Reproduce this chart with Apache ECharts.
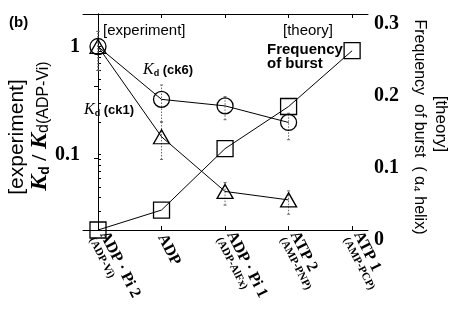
<!DOCTYPE html>
<html><head><meta charset="utf-8">
<script src="https://cdn.jsdelivr.net/npm/echarts@6/dist/echarts.min.js"></script>
<style>html,body{margin:0;padding:0;background:#fff}#c{width:463px;height:318px}</style>
</head><body><div id="c"></div>
<script>
const categories = ['ADP · Pi 2', 'ADP', 'ADP · Pi 1', 'ATP 2', 'ATP 1'];
const subLabels = ['(ADP-Vi)', '', '(ADP-AlFx)', '(AMP-PNP)', '(AMP-PCP)'];
const kdCk6 = [1.0, 0.324, 0.282, 0.198];
const kdCk1 = [1.0, 0.146, 0.0455, 0.038];
const burst = [0, 0.0277, 0.113, 0.1715, 0.249];
const ck6Low = [0.60, 0.20, 0.21, 0.137];
const ck6High = [1.38, 0.44, 0.343, 0.241];
const ck1Low = [0.60, 0.09, 0.034, 0.028];
const ck1High = [1.38, 0.20, 0.055, 0.046];
const leftLabels = [0.1, 1];
const leftTicks = [0.02,0.03,0.04,0.05,0.06,0.07,0.08,0.09,0.1,0.2,0.3,0.4,0.5,0.6,0.7,0.8,0.9,1,2];
const rightTicks = [0, 0.1, 0.2, 0.3];

const catIdx = categories.map((_, i) => i);
const serif = '"Liberation Serif", "DejaVu Serif", serif';
const sans = '"Liberation Sans", Arial, sans-serif';

function pts(arr){ return arr.map((v,i)=>[i,v]); }
function errs(lo,hi){ return lo.map((v,i)=>[i,v,hi[i]]); }

const errRender = function(params, api){
  const x = api.value(0);
  const p1 = api.coord([x, api.value(1)]);
  const p2 = api.coord([x, api.value(2)]);
  const st = {stroke:'#666', lineWidth:1, lineDash:[1.5,1.5]};
  return {type:'group', children:[
    {type:'line', shape:{x1:p1[0],y1:p1[1],x2:p2[0],y2:p2[1]}, style:st},
    {type:'line', shape:{x1:p1[0]-1.5,y1:p1[1],x2:p1[0]+1.5,y2:p1[1]}, style:{stroke:'#666',lineWidth:1}},
    {type:'line', shape:{x1:p2[0]-1.5,y1:p2[1],x2:p2[0]+1.5,y2:p2[1]}, style:{stroke:'#666',lineWidth:1}}
  ]};
};

const chart = echarts.init(document.getElementById('c'), null, {renderer:'canvas'});
const axLine = {show:true, lineStyle:{color:'#000', width:1}};
const markerStyle = {color:'rgba(0,0,0,0)', borderColor:'#000', borderWidth:1.3};
const kdRich = {k:{fontFamily:serif, fontStyle:'italic', fontSize:16, fill:'#000', color:'#000'},
                d:{fontFamily:sans, fontWeight:'bold', fontSize:9, verticalAlign:'bottom', fill:'#000', color:'#000', padding:[6,0,0,0]},
                c:{fontFamily:sans, fontWeight:'bold', fontSize:13, fill:'#000', color:'#000'}};

chart.setOption({
  animation:false,
  backgroundColor:'#fff',
  grid:{left:83, right:95, top:14, bottom:88, containLabel:false},
  xAxis:[
    {type:'value', min:-0.236, max:4.25, position:'bottom', axisLine:axLine,
     splitLine:{show:false},
     axisTick:{show:true, inside:true, length:4, customValues:catIdx, lineStyle:{color:'#000'}},
     axisLabel:{show:true, customValues:catIdx, rotate:-63, margin:5,
       formatter:function(v){ const i=Math.round(v); return subLabels[i] ? '{a|'+categories[i]+'}\n{b|'+subLabels[i]+'}' : '{a|'+categories[i]+'}'; },
       rich:{a:{fontFamily:serif, fontWeight:'bold', fontSize:16, color:'#000', lineHeight:14},
             b:{fontFamily:serif, fontWeight:'bold', fontSize:11, color:'#000', lineHeight:12}}}},
    {type:'value', min:-0.236, max:4.25, position:'top', axisLine:axLine,
     splitLine:{show:false},
     axisTick:{show:true, inside:true, length:4, customValues:catIdx, lineStyle:{color:'#000'}},
     axisLabel:{show:false}}
  ],
  yAxis:[
    {type:'log', logBase:10, min:0.02, max:2, position:'left', axisLine:axLine,
     splitLine:{show:false},
     axisTick:{show:true, inside:true, length:3, customValues:leftTicks, lineStyle:{color:'#000'}},
     axisLabel:{show:true, customValues:leftLabels, margin:3, color:'#000',
       fontFamily:serif, fontWeight:'bold', fontSize:20,
       formatter:function(v){ return v>=1 ? '1' : '0.1'; }}},
    {type:'value', min:0, max:0.3, interval:0.1, position:'right', axisLine:axLine,
     splitLine:{show:false},
     axisTick:{show:true, inside:true, length:4, lineStyle:{color:'#000'}},
     axisLabel:{show:true, margin:6, color:'#000', fontFamily:serif, fontWeight:'bold', fontSize:20,
       verticalAlign:'top',
       formatter:function(v){ return v===0 ? '0' : v.toFixed(1); }}}
  ],
  series:[
    {type:'custom', name:'ck6 err', xAxisIndex:0, yAxisIndex:0, renderItem:errRender,
     encode:{x:0, y:[1,2]}, data:errs(ck6Low, ck6High), z:1, clip:false},
    {type:'custom', name:'ck1 err', xAxisIndex:0, yAxisIndex:0, renderItem:errRender,
     encode:{x:0, y:[1,2]}, data:errs(ck1Low, ck1High), z:1, clip:false},
    {type:'line', name:'Kd(ck6)', xAxisIndex:0, yAxisIndex:0, data:pts(kdCk6),
     symbol:'circle', symbolSize:16, lineStyle:{color:'#000', width:1}, itemStyle:markerStyle, z:3, clip:false},
    {type:'line', name:'Kd(ck1)', xAxisIndex:0, yAxisIndex:0, data:pts(kdCk1),
     symbol:'triangle', symbolSize:[16,14], lineStyle:{color:'#000', width:1}, itemStyle:markerStyle, z:3, clip:false},
    {type:'line', name:'Frequency of burst', xAxisIndex:0, yAxisIndex:1, data:pts(burst),
     symbol:'rect', symbolSize:16, lineStyle:{color:'#000', width:1}, itemStyle:markerStyle, z:3, clip:false}
  ],
  graphic:[
    {type:'text', x:9, y:23, style:{text:'(b)', fill:'#000', font:'bold 15px '+sans, verticalAlign:'middle', textVerticalAlign:'middle'}},
    {type:'text', x:103, y:31, style:{text:'[experiment]', fill:'#000', font:'15px '+sans, verticalAlign:'middle', textVerticalAlign:'middle'}},
    {type:'text', x:283, y:31, style:{text:'[theory]', fill:'#000', font:'15px '+sans, verticalAlign:'middle', textVerticalAlign:'middle'}},
    {type:'text', x:267, y:50, style:{text:'Frequency', fill:'#000', font:'bold 15px '+sans, verticalAlign:'middle', textVerticalAlign:'middle'}},
    {type:'text', x:267, y:64, style:{text:'of burst', fill:'#000', font:'bold 15px '+sans, verticalAlign:'middle', textVerticalAlign:'middle'}},
    {type:'text', x:143, y:70, style:{text:'{k|K}{d|d}{c| (ck6)}', verticalAlign:'middle', textVerticalAlign:'middle', rich:kdRich}},
    {type:'text', x:84, y:110, style:{text:'{k|K}{d|d}{c| (ck1)}', verticalAlign:'middle', textVerticalAlign:'middle', rich:kdRich}},
    {type:'text', x:17, y:137, rotation:Math.PI/2, style:{text:'[experiment]', fill:'#000', font:'21px '+sans,
      align:'center', textAlign:'center', verticalAlign:'middle', textVerticalAlign:'middle'}},
    {type:'text', x:40, y:126, rotation:Math.PI/2, style:{text:'{k|K}{d|d}{n| / }{k|K}{s|d(ADP-Vi)}',
      align:'center', textAlign:'center', verticalAlign:'middle', textVerticalAlign:'middle',
      rich:{k:{fontFamily:serif, fontStyle:'italic', fontWeight:'bold', fontSize:24, color:'#000', fill:'#000'},
            d:{fontFamily:sans, fontWeight:'bold', fontSize:14, verticalAlign:'bottom', color:'#000', fill:'#000'},
            n:{fontFamily:serif, fontWeight:'bold', fontSize:22, color:'#000', fill:'#000'},
            s:{fontFamily:sans, fontSize:16, verticalAlign:'bottom', color:'#000', fill:'#000'}}}},
    {type:'text', x:441, y:124, rotation:-Math.PI/2, style:{text:'[theory]', fill:'#000', font:'17px '+sans,
      align:'center', textAlign:'center', verticalAlign:'middle', textVerticalAlign:'middle'}},
    {type:'text', x:419, y:127, rotation:-Math.PI/2, style:{text:'Frequency  of burst  ( α\u2084 helix)', fill:'#000', font:'16px '+sans,
      align:'center', textAlign:'center', verticalAlign:'middle', textVerticalAlign:'middle'}}
  ]
});
</script></body></html>
